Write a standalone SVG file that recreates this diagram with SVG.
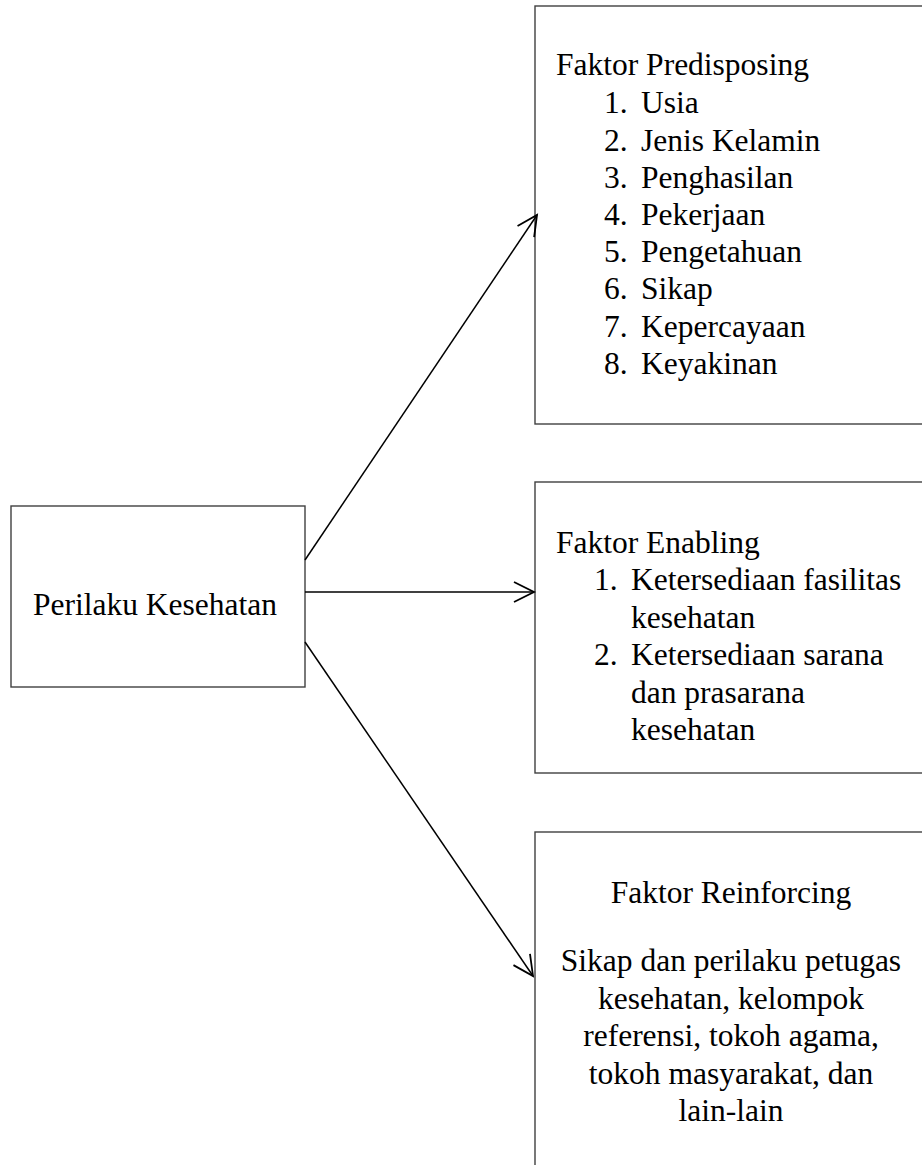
<svg xmlns="http://www.w3.org/2000/svg" width="922" height="1165" viewBox="0 0 922 1165">
<style>
.box{fill:#fff;stroke:#404040;stroke-width:1.4}
.t{font-family:"Liberation Serif","Times New Roman",serif;font-size:31.5px;fill:#000}
.c{text-anchor:middle}
.conn{stroke:#000;stroke-width:1.5;fill:none;marker-end:url(#arr)}
</style>
<defs>
<marker id="arr" markerUnits="userSpaceOnUse" markerWidth="30" markerHeight="30" viewBox="-25 -15 30 30" refX="0" refY="0" orient="auto">
<path d="M-20,-10 L0,0 L-20,10" fill="none" stroke="#000" stroke-width="1.8"/>
</marker>
</defs>
<rect width="922" height="1165" fill="#fff"/>
<g id="node-perilaku">
<rect class="box" x="11" y="506" width="294" height="181"/>
<text class="t" x="33" y="615">Perilaku Kesehatan</text>
</g>
<g id="node-predisposing">
<rect class="box" x="535" y="6" width="400" height="418"/>
<text class="t" x="556" y="75">Faktor Predisposing</text>
<text class="t" x="604" y="113">1.</text><text class="t" x="641" y="113">Usia</text>
<text class="t" x="604" y="150.5">2.</text><text class="t" x="641" y="150.5">Jenis Kelamin</text>
<text class="t" x="604" y="188">3.</text><text class="t" x="641" y="188">Penghasilan</text>
<text class="t" x="604" y="225">4.</text><text class="t" x="641" y="225">Pekerjaan</text>
<text class="t" x="604" y="262">5.</text><text class="t" x="641" y="262">Pengetahuan</text>
<text class="t" x="604" y="299">6.</text><text class="t" x="641" y="299">Sikap</text>
<text class="t" x="604" y="336.5">7.</text><text class="t" x="641" y="336.5">Kepercayaan</text>
<text class="t" x="604" y="374">8.</text><text class="t" x="641" y="374">Keyakinan</text>
</g>
<g id="node-enabling">
<rect class="box" x="535" y="482" width="400" height="291"/>
<text class="t" x="556" y="553">Faktor Enabling</text>
<text class="t" x="594" y="590">1.</text><text class="t" x="631" y="590">Ketersediaan fasilitas</text>
<text class="t" x="631" y="627.5">kesehatan</text>
<text class="t" x="594" y="665">2.</text><text class="t" x="631" y="665">Ketersediaan sarana</text>
<text class="t" x="631" y="702.5">dan prasarana</text>
<text class="t" x="631" y="740">kesehatan</text>
</g>
<g id="node-reinforcing">
<rect class="box" x="535" y="832" width="400" height="360"/>
<text class="t c" x="731" y="903">Faktor Reinforcing</text>
<text class="t c" x="731" y="971">Sikap dan perilaku petugas</text>
<text class="t c" x="731" y="1008.5">kesehatan, kelompok</text>
<text class="t c" x="731" y="1046">referensi, tokoh agama,</text>
<text class="t c" x="731" y="1083.5">tokoh masyarakat, dan</text>
<text class="t c" x="731" y="1121">lain-lain</text>
</g>
<g id="connectors">
<line class="conn" x1="305" y1="560" x2="537" y2="215"/>
<line class="conn" x1="305" y1="592" x2="534" y2="592"/>
<line class="conn" x1="305" y1="642" x2="533" y2="976"/>
</g>
</svg>
